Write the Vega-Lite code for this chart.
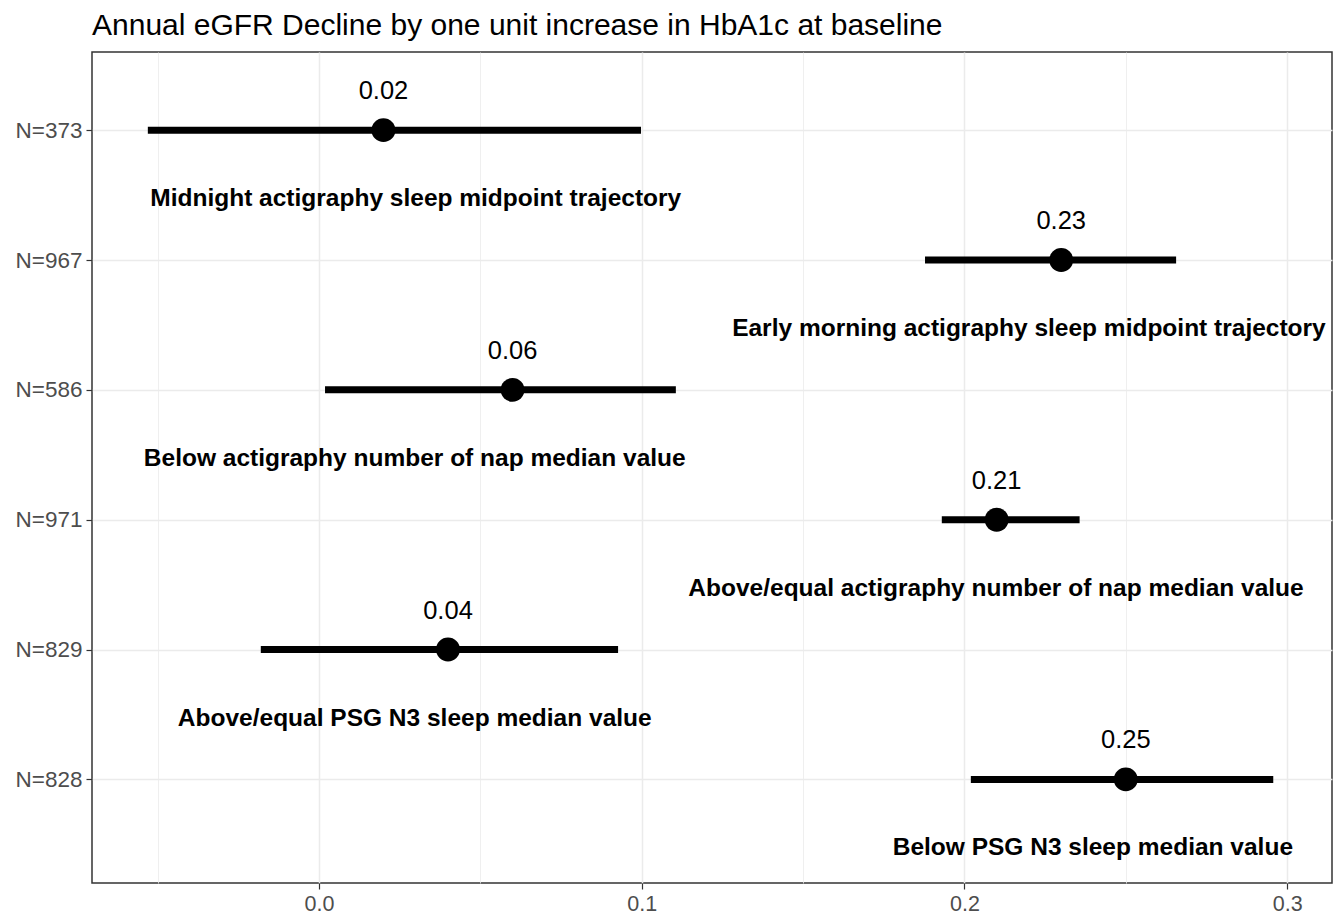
{
  "$schema": "https://vega.github.io/schema/vega-lite/v6.json",
  "autosize": "none",
  "width": 1240,
  "height": 831,
  "padding": {"left": 92, "top": 52, "right": 10, "bottom": 36},
  "background": "white",
  "title": {
    "text": "Annual eGFR Decline by one unit increase in HbA1c at baseline",
    "anchor": "start",
    "frame": "group",
    "font": "Liberation Sans",
    "fontSize": 30,
    "fontWeight": "normal",
    "color": "#000000",
    "baseline": "alphabetic",
    "offset": -13
  },
  "config": {
    "view": {"stroke": "#333333", "strokeWidth": 1.5},
    "font": "Liberation Sans"
  },
  "data": {
    "values": [
      {"n": "N=373", "est": 0.02, "lo": -0.053, "hi": 0.0998, "label": "Midnight actigraphy sleep midpoint trajectory", "label_x": 0.03},
      {"n": "N=967", "est": 0.23, "lo": 0.1878, "hi": 0.2656, "label": "Early morning actigraphy sleep midpoint trajectory", "label_x": 0.22},
      {"n": "N=586", "est": 0.06, "lo": 0.0019, "hi": 0.1106, "label": "Below actigraphy number of nap median value", "label_x": 0.0297},
      {"n": "N=971", "est": 0.21, "lo": 0.193, "hi": 0.2357, "label": "Above/equal actigraphy number of nap median value", "label_x": 0.2098},
      {"n": "N=829", "est": 0.04, "lo": -0.018, "hi": 0.0927, "label": "Above/equal PSG N3 sleep median value", "label_x": 0.0297},
      {"n": "N=828", "est": 0.25, "lo": 0.202, "hi": 0.2957, "label": "Below PSG N3 sleep median value", "label_x": 0.2398}
    ]
  },
  "encoding": {
    "y": {
      "field": "n",
      "type": "nominal",
      "sort": null,
      "scale": {"type": "point", "padding": 0.7, "align": 0.43},
      "axis": {
        "title": null,
        "domain": false,
        "grid": true,
        "gridColor": "#ebebeb",
        "gridWidth": 1.5,
        "ticks": true,
        "tickColor": "#333333",
        "tickSize": 6,
        "tickWidth": 1.2,
        "labelFont": "Liberation Sans",
        "labelFontSize": 22.5,
        "labelColor": "#4d4d4d",
        "labelPadding": 4
      }
    }
  },
  "layer": [
    {
      "mark": {"type": "rule", "strokeWidth": 7, "color": "#000000"},
      "encoding": {
        "x": {
          "field": "lo",
          "type": "quantitative",
          "scale": {"domain": [-0.0703, 0.3139], "nice": false, "zero": false},
          "axis": {
            "title": null,
            "domain": false,
            "values": [-0.05, 0, 0.05, 0.1, 0.15, 0.2, 0.25, 0.3],
            "labelExpr": "abs(round(datum.value*20)) % 2 == 0 ? format(datum.value, '.1f') : ''",
            "grid": true,
            "gridColor": "#ebebeb",
            "gridWidth": {"condition": {"test": "abs(round(datum.value*20)) % 2 == 1", "value": 0.8}, "value": 1.5},
            "tickOpacity": {"condition": {"test": "abs(round(datum.value*20)) % 2 == 1", "value": 0}, "value": 1},
            "tickColor": "#333333",
            "tickSize": 6,
            "tickWidth": 1.2,
            "labelFont": "Liberation Sans",
            "labelFontSize": 21.5,
            "labelColor": "#4d4d4d",
            "labelPadding": 4
          }
        },
        "x2": {"field": "hi"}
      }
    },
    {
      "mark": {"type": "point", "filled": true, "shape": "circle", "size": 570, "color": "#000000", "opacity": 1},
      "encoding": {
        "x": {"field": "est", "type": "quantitative"}
      }
    },
    {
      "mark": {"type": "text", "fontSize": 25.5, "color": "#000000", "baseline": "alphabetic", "dy": -31, "align": "center"},
      "encoding": {
        "x": {"field": "est", "type": "quantitative"},
        "text": {"field": "est", "type": "quantitative", "format": ".2f"}
      }
    },
    {
      "mark": {"type": "text", "fontSize": 24.5, "fontWeight": "bold", "color": "#000000", "baseline": "alphabetic", "dy": 76, "align": "center"},
      "encoding": {
        "x": {"field": "label_x", "type": "quantitative"},
        "text": {"field": "label", "type": "nominal"}
      }
    }
  ]
}
